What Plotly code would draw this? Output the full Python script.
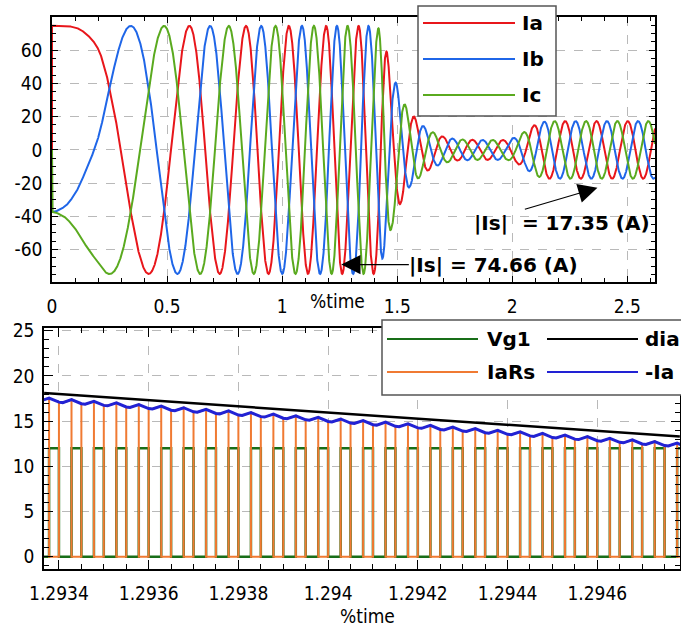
import numpy as np
import plotly.graph_objects as go

W, H = 681, 631

# ---------------- top chart data ----------------
# instants at which the electrical angle equals k*60 deg (peaks / troughs of the 3 phases)
phase_t = [0.0, 0.05, 0.10, 0.15, 0.20, 0.25, 0.342, 0.42, 0.487, 0.597, 0.687, 0.768,
           0.843, 0.909, 0.971, 1.029, 1.086, 1.138, 1.191, 1.238, 1.284, 1.332, 1.375,
           1.419, 1.455, 1.496, 1.535, 1.574, 2.591, 2.62]
phase_k = [0.0, 0.04, 0.155, 0.353, 0.59, 1, 2, 3, 4, 6, 8, 10,
           12, 14, 16, 18, 20, 22, 24, 26, 28, 30, 32,
           34, 36, 38, 40, 42, 88, 89.3]
# current amplitude envelope
env_t = [0.0, 1.405, 1.420, 1.437, 1.455, 1.475, 1.496, 1.515, 1.535, 1.555, 1.574,
         1.596, 1.617, 1.650, 1.700, 1.750, 1.850, 1.980, 2.020, 2.064, 2.107, 2.150, 2.620]
env_a = [74.66, 74.66, 73.0, 65.0, 59.0, 47.0, 40.0, 32.0, 27.0, 22.0, 20.0,
         16.6, 14.0, 11.0, 8.0, 6.5, 6.0, 6.0, 8.0, 12.0, 16.0, 17.35, 17.35]
top_x_ticks = [0, 0.5, 1, 1.5, 2, 2.5]
top_x_labels = ["0", "0.5", "1", "1.5", "2", "2.5"]
top_y_ticks = [-60, -40, -20, 0, 20, 40, 60]
top_y_labels = ["-60", "-40", "-20", "0", "20", "40", "60"]
top_names = ["Ia", "Ib", "Ic"]
top_colors = ["#e8161b", "#1f66e8", "#5aaa1f"]

# ---------------- bottom chart data ----------------
pwm_period = 5.0e-5
vg1_rise0 = 1.293378
vg1_on = 2.2e-5
vg1_level = 12.0
negIa_peak_t = [1.293378, 1.294728]
negIa_peak_v = [17.55, 12.75]
negIa_ripple = 0.5
dia_t = [1.293367, 1.294784]
dia_v = [18.1, 13.3]
bot_x_ticks = [1.2934, 1.2936, 1.2938, 1.2940, 1.2942, 1.2944, 1.2946]
bot_x_labels = ["1.2934", "1.2936", "1.2938", "1.294", "1.2942", "1.2944", "1.2946"]
bot_y_ticks = [0, 5, 10, 15, 20, 25]
bot_names = ["Vg1", "dia", "IaRs", "-Ia"]
bot_colors = ["#186e18", "#000000", "#f07a32", "#2222d4"]


def pchip(xk, yk, x):
    xk = np.asarray(xk, float); yk = np.asarray(yk, float)
    h = np.diff(xk); d = np.diff(yk) / h
    m = np.zeros_like(yk)
    for i in range(1, len(xk) - 1):
        if d[i - 1] * d[i] > 0:
            w1 = 2 * h[i] + h[i - 1]; w2 = h[i] + 2 * h[i - 1]
            m[i] = (w1 + w2) / (w1 / d[i - 1] + w2 / d[i])
    m[0] = 0.0; m[-1] = d[-1]
    idx = np.clip(np.searchsorted(xk, x, side="right") - 1, 0, len(h) - 1)
    s = (x - xk[idx]) / h[idx]
    h00 = 2 * s**3 - 3 * s**2 + 1; h10 = s**3 - 2 * s**2 + s
    h01 = -2 * s**3 + 3 * s**2; h11 = s**3 - s**2
    return h00 * yk[idx] + h10 * h[idx] * m[idx] + h01 * yk[idx + 1] + h11 * h[idx] * m[idx + 1]


t = np.linspace(0, phase_t[-1], 9000)
theta = pchip(phase_t, phase_k, t) * np.pi / 3
amp = np.interp(t, env_t, env_a)
phases = [0.0, -2 * np.pi / 3, 2 * np.pi / 3]

fig = go.Figure()
for name, col, ph in zip(top_names, top_colors, phases):
    y = amp * np.cos(theta + ph)
    fig.add_trace(go.Scatter(x=np.concatenate([[0.0], t]), y=np.concatenate([[0.0], y]),
                             mode="lines", name=name, line=dict(color=col, width=2),
                             xaxis="x", yaxis="y", showlegend=False))


def peak_at(tt):
    slope = (negIa_peak_v[1] - negIa_peak_v[0]) / (negIa_peak_t[1] - negIa_peak_t[0])
    return negIa_peak_v[0] + (tt - negIa_peak_t[0]) * slope


tx, ia, rs_x, rs_y, vg_x, vg_y = [], [], [], [], [], []
for n in range(-1, 30):
    r = vg1_rise0 + n * pwm_period
    f = r + vg1_on
    rn = r + pwm_period
    off = rn - f
    P = peak_at(r)
    pts = [(r, P), (f, P - 0.9 * negIa_ripple), (f + 0.3 * off, P - negIa_ripple)]
    for (a, b) in pts:
        tx.append(a); ia.append(b)
    rs_x += [r, r, f, f, f + 0.3 * off]
    rs_y += [P, 0.0, 0.0, P - 0.9 * negIa_ripple, P - negIa_ripple]
    vg_x += [r, r, f, f]
    vg_y += [0.0, vg1_level, vg1_level, 0.0]

bot_data = [
    (vg_x, vg_y, 2.5),
    (dia_t, dia_v, 2.5),
    (rs_x, rs_y, 2.0),
    (tx, ia, 3.0),
]
for name, col, (xx, yy, lw) in zip(bot_names, bot_colors, bot_data):
    fig.add_trace(go.Scatter(x=xx, y=yy, mode="lines", name=name,
                             line=dict(color=col, width=lw), xaxis="x2", yaxis="y2",
                             showlegend=False))

FONT = "DejaVu Sans Condensed, Liberation Sans, sans-serif"
BOLD = "DejaVu Sans, sans-serif"
tickfont = dict(family=FONT, size=19, color="black")


def px(x):
    return x / W


def py(y):
    return 1 - y / H


common = dict(showline=True, linecolor="black", linewidth=1.5, mirror="ticks",
              ticks="inside", tickcolor="black", tickwidth=1, showgrid=True,
              gridcolor="#b9b9b9", griddash="dash", gridwidth=1, zeroline=False,
              tickfont=tickfont, automargin=False)

fig.update_layout(
    width=W, height=H, margin=dict(l=0, r=0, t=0, b=0, pad=0),
    paper_bgcolor="white", plot_bgcolor="white", showlegend=False,
    xaxis=dict(domain=[px(52), px(655)], range=[0, 2.62], tickvals=top_x_ticks,
               ticktext=top_x_labels, ticklen=6, anchor="y", ticklabelstandoff=6,
               minor=dict(dtick=0.1, tick0=0, ticks="inside", ticklen=4, tickcolor="black",
                          showgrid=False), **common),
    yaxis=dict(domain=[py(282), py(17)], range=[-79.5, 80], tickvals=top_y_ticks,
               ticktext=top_y_labels, ticklen=6, anchor="x", ticklabelstandoff=4,
               minor=dict(dtick=5, tick0=0, ticks="inside", ticklen=4, tickcolor="black",
                          showgrid=False), **common),
    xaxis2=dict(domain=[px(44), px(680)], range=[1.2933667, 1.2947844], tickvals=bot_x_ticks,
                ticktext=bot_x_labels, ticklen=9, anchor="y2", ticklabelstandoff=6,
                minor=dict(dtick=0.00005, tick0=1.2934, ticks="inside", ticklen=5,
                           tickcolor="black", showgrid=False), **common),
    yaxis2=dict(domain=[py(569), py(328)], range=[-1.35, 25.3], tickvals=bot_y_ticks,
                ticklen=9, anchor="x2", ticklabelstandoff=4,
                minor=dict(dtick=1, tick0=0, ticks="inside", ticklen=5, tickcolor="black",
                           showgrid=False), **common),
)

shapes = []
annotations = []

shapes.append(dict(type="rect", xref="paper", yref="paper", x0=px(418), x1=px(556),
                   y0=py(116), y1=py(6), line=dict(color="#555555", width=1.5),
                   fillcolor="white", layer="above"))
for name, col, yy in zip(top_names, top_colors, [23, 59, 95]):
    shapes.append(dict(type="line", xref="paper", yref="paper", x0=px(423), x1=px(515),
                       y0=py(yy), y1=py(yy), line=dict(color=col, width=2), layer="above"))
    annotations.append(dict(xref="paper", yref="paper", x=px(520), y=py(yy), text="<b>%s</b>" % name,
                            showarrow=False, xanchor="left", yanchor="middle",
                            font=dict(family=BOLD, size=20, color="black")))

shapes.append(dict(type="rect", xref="paper", yref="paper", x0=px(382), x1=px(695),
                   y0=py(395), y1=py(320), line=dict(color="#555555", width=1.5),
                   fillcolor="white", layer="above"))
leg_pos = [(387, 478, 485, 339), (547, 638, 643, 339), (387, 478, 485, 372), (547, 638, 643, 372)]
for name, col, (l0, l1, tx0, yy) in zip(bot_names, bot_colors, leg_pos):
    shapes.append(dict(type="line", xref="paper", yref="paper", x0=px(l0), x1=px(l1),
                       y0=py(yy), y1=py(yy), line=dict(color=col, width=2), layer="above"))
    annotations.append(dict(xref="paper", yref="paper", x=px(tx0), y=py(yy), text="<b>%s</b>" % name,
                            showarrow=False, xanchor="left", yanchor="middle",
                            font=dict(family=BOLD, size=20, color="black")))

annotations.append(dict(xref="paper", yref="paper", x=px(337), y=py(301), text="%time",
                        showarrow=False, xanchor="center", yanchor="middle", font=tickfont))
annotations.append(dict(xref="paper", yref="paper", x=px(367), y=py(616), text="%time",
                        showarrow=False, xanchor="center", yanchor="middle", font=tickfont))

annotations.append(dict(xref="x", yref="y", axref="x", ayref="y", x=1.257, y=-69, ax=1.557, ay=-69,
                        text="", showarrow=True, arrowhead=2, arrowsize=3.2, arrowwidth=1.2,
                        arrowcolor="black"))
annotations.append(dict(xref="paper", yref="paper", x=px(407), y=py(265),
                        text="<b>|Is| = 74.66 (A)</b>", showarrow=False, xanchor="left",
                        yanchor="middle", font=dict(family=BOLD, size=20, color="black")))
annotations.append(dict(xref="x", yref="y", axref="x", ayref="y", x=2.37, y=-22.8, ax=2.048, ay=-36,
                        text="", showarrow=True, arrowhead=2, arrowsize=3.2, arrowwidth=1.2,
                        arrowcolor="black"))
annotations.append(dict(xref="paper", yref="paper", x=px(472), y=py(223),
                        text="<b>|Is|\u00a0 = 17.35 (A)</b>", showarrow=False, xanchor="left",
                        yanchor="middle", font=dict(family=BOLD, size=20, color="black")))

fig.update_layout(shapes=shapes, annotations=annotations)
fig.write_html("out.html", config={"displayModeBar": False},
               post_script="document.body.style.margin='0';document.body.style.padding='0';"
                           "document.body.style.overflow='hidden';")
